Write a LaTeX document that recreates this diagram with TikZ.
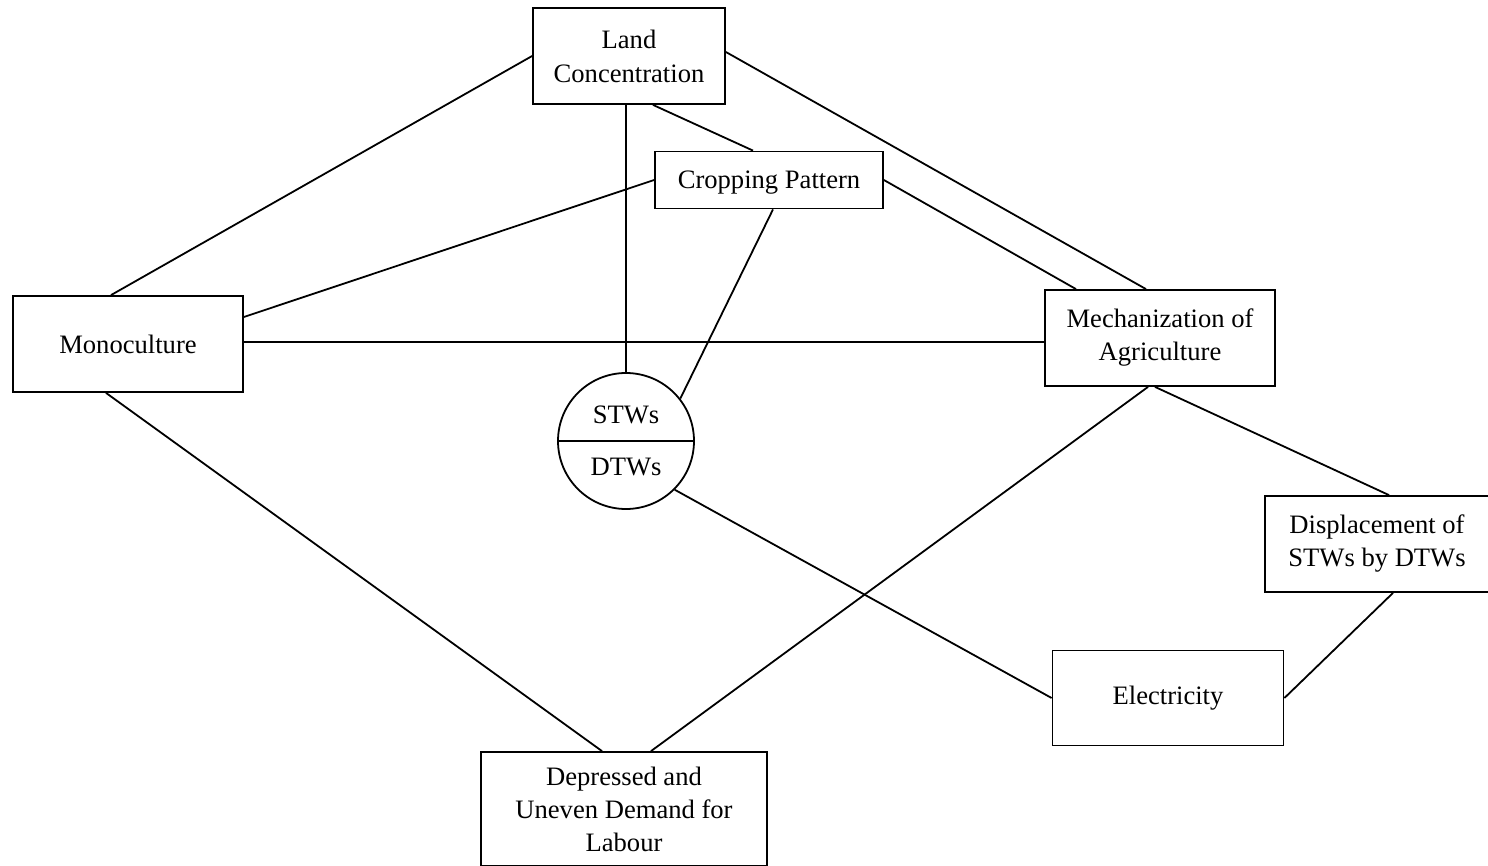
\documentclass[tikz,border=0pt]{standalone}
\usepackage{fontspec}
\setmainfont{Liberation Serif}
\usepackage{tikz}
\usetikzlibrary{positioning}

\begin{document}
\begin{tikzpicture}[x=0.5pt, y=-0.5pt, line width=0.9pt,
    box/.style={draw, rectangle, align=center, inner sep=0pt,
      font=\fontsize{13.3}{16.5}\selectfont},
    well/.style={draw, circle, minimum size=68pt, inner sep=0pt}]
      \useasboundingbox (0,0) rectangle (1488,866);

      \node[box, minimum width=96pt, minimum height=48pt,
        font=\fontsize{13.3}{17}\selectfont] (LC) at (629,56) {Land\\Concentration};
      \node[box, minimum width=114pt, minimum height=28.5pt, text depth=0pt] (CP) at (769,180) {Cropping Pattern};
      \node[box, minimum width=115pt, minimum height=48pt] (MO) at (128,344) {Monoculture};
      \node[box, minimum width=115pt, minimum height=48pt] (ME) at (1160,338) {Mechanization of\\Agriculture};
      \node[well] (WL) at (626,441) {};
      \node[font=\fontsize{13.3}{16.5}\selectfont] (ST) at ([yshift=13pt]WL.center) {STWs};
      \node[font=\fontsize{13.3}{16.5}\selectfont] (DT) at ([yshift=-13pt]WL.center) {DTWs};
      \node[box, minimum width=112pt, minimum height=48pt] (DS) at (1377,544) {Displacement of\\STWs by DTWs};
      \node[box, minimum width=115.5pt, minimum height=47.5pt] (EL) at (1168,698) {Electricity};
      \node[box, minimum width=143pt, minimum height=57pt] (DD) at (624,809) {Depressed and\\Uneven Demand for\\Labour};

      \draw (WL.west) -- (WL.east);

      \draw (LC.west) -- ([xshift=-8.5pt]MO.north);
      \draw ([yshift=2pt]LC.east) -- ([xshift=-7pt]ME.north);
      \draw ([xshift=12pt]LC.south) -- ([xshift=-8pt]CP.north);
      \draw (WL.north |- LC.south) -- (WL.north);

      \draw (CP.west) -- ([yshift=13.5pt]MO.east);
      \draw (CP.east) -- ([xshift=-42pt]ME.north);
      \draw ([xshift=2pt]CP.south) -- (WL.38);

      \draw ([yshift=1pt]MO.east) -- ([yshift=1pt]MO.east -| ME.west);
      \draw ([xshift=-11pt]MO.south) -- ([xshift=-11pt]DD.north);

      \draw ([xshift=-6pt]ME.south) -- ([xshift=13.5pt]DD.north);
      \draw ([xshift=-2.5pt]ME.south) -- ([xshift=6pt]DS.north);

      \draw (WL.-45) -- (EL.west);
      \draw ([xshift=8pt]DS.south) -- (EL.east);
    \end{tikzpicture}
\end{document}
